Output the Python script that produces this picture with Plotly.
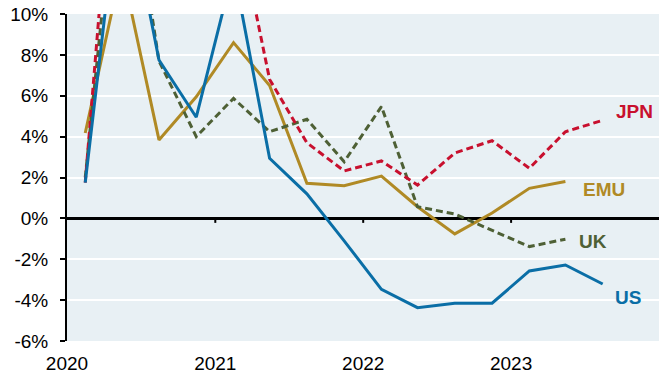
import plotly.graph_objects as go

# Quarterly observations (mid-quarter), Q1 2020 .. Q3 2023
quarters = ["2020-02-15", "2020-05-15", "2020-08-15", "2020-11-15",
            "2021-02-15", "2021-05-15", "2021-08-15", "2021-11-15",
            "2022-02-15", "2022-05-15", "2022-08-15", "2022-11-15",
            "2023-02-15", "2023-05-15", "2023-08-15"]

us = [1.75, 17.0, 7.75, 4.95, 12.2, 2.94, 1.2, -1.1, -3.47, -4.37, -4.15, -4.15, -2.57, -2.28, -3.21]
jpn = [1.75, 23.5, 21.0, 18.0, 15.4, 6.8, 3.7, 2.32, 2.81, 1.63, 3.2, 3.8, 2.45, 4.24, 4.8]
emu = [4.18, 12.3, 3.84, 5.95, 8.6, 6.5, 1.72, 1.6, 2.07, 0.57, -0.76, 0.26, 1.47, 1.8]
uk = [2.0, 19.5, 7.7, 4.0, 5.87, 4.24, 4.85, 2.77, 5.47, 0.57, 0.21, -0.57, -1.38, -1.02]

year_ticks = ["2020-01-01", "2021-01-01", "2022-01-01", "2023-01-01"]
year_labels = ["2020", "2021", "2022", "2023"]
y_ticks = [-6, -4, -2, 0, 2, 4, 6, 8, 10]
y_labels = ["-6%", "-4%", "-2%", "0%", "2%", "4%", "6%", "8%", "10%"]

series_names = ["JPN", "EMU", "UK", "US"]
label_x = ["2023-11-01", "2023-08-18", "2023-07-21", "2023-10-16"]
label_y = [5.22, 1.39, -1.15, -3.88]

C_US = "#0A6EA6"
C_JPN = "#C8102E"
C_EMU = "#B08A25"
C_UK = "#4E6035"

fig = go.Figure()
fig.add_trace(go.Scatter(x=quarters[:len(emu)], y=emu, mode="lines",
                         line=dict(color=C_EMU, width=3), name="EMU"))
fig.add_trace(go.Scatter(x=quarters[:len(uk)], y=uk, mode="lines",
                         line=dict(color=C_UK, width=3, dash="7px,4px"), name="UK"))
fig.add_trace(go.Scatter(x=quarters, y=jpn, mode="lines",
                         line=dict(color=C_JPN, width=3, dash="7px,4px"), name="JPN"))
fig.add_trace(go.Scatter(x=quarters, y=us, mode="lines",
                         line=dict(color=C_US, width=3), name="US"))

font_family = "Liberation Sans, Arial, sans-serif"
colors = [C_JPN, C_EMU, C_UK, C_US]
for name, lx, ly, col in zip(series_names, label_x, label_y, colors):
    fig.add_annotation(x=lx, y=ly, text="<b>%s</b>" % name, showarrow=False,
                       xanchor="center", yanchor="middle",
                       font=dict(family=font_family, size=19, color=col))

# small downward ticks on the zero line at each year
for t in year_ticks[1:]:
    fig.add_shape(type="line", xref="x", yref="y", x0=t, x1=t, y0=0, y1=-0.22,
                  line=dict(color="black", width=2), layer="above")

fig.update_layout(
    width=659, height=374,
    margin=dict(l=67, r=0, t=14, b=33, autoexpand=False),
    paper_bgcolor="white", plot_bgcolor="#E8F0F4",
    showlegend=False,
    font=dict(family=font_family, size=19, color="black"),
    xaxis=dict(type="date", range=["2020-01-01", "2024-01-01"],
               tickvals=year_ticks, ticktext=year_labels,
               showgrid=False, showline=False, zeroline=False, ticks="",
               tickfont=dict(size=19), ticklabelstandoff=9, automargin=False),
    yaxis=dict(range=[-6, 10], tickvals=y_ticks, ticktext=y_labels,
               showgrid=True, gridcolor="white", gridwidth=1.5,
               showline=True, linecolor="black", linewidth=2,
               ticks="outside", ticklen=5, tickwidth=2, tickcolor="black",
               zeroline=True, zerolinecolor="black", zerolinewidth=2.5,
               tickfont=dict(size=19), ticklabelstandoff=8, automargin=False),
)

fig.write_html("out.html",
               config={"displayModeBar": False},
               post_script="document.body.style.margin='0px';document.body.style.overflow='hidden';")
